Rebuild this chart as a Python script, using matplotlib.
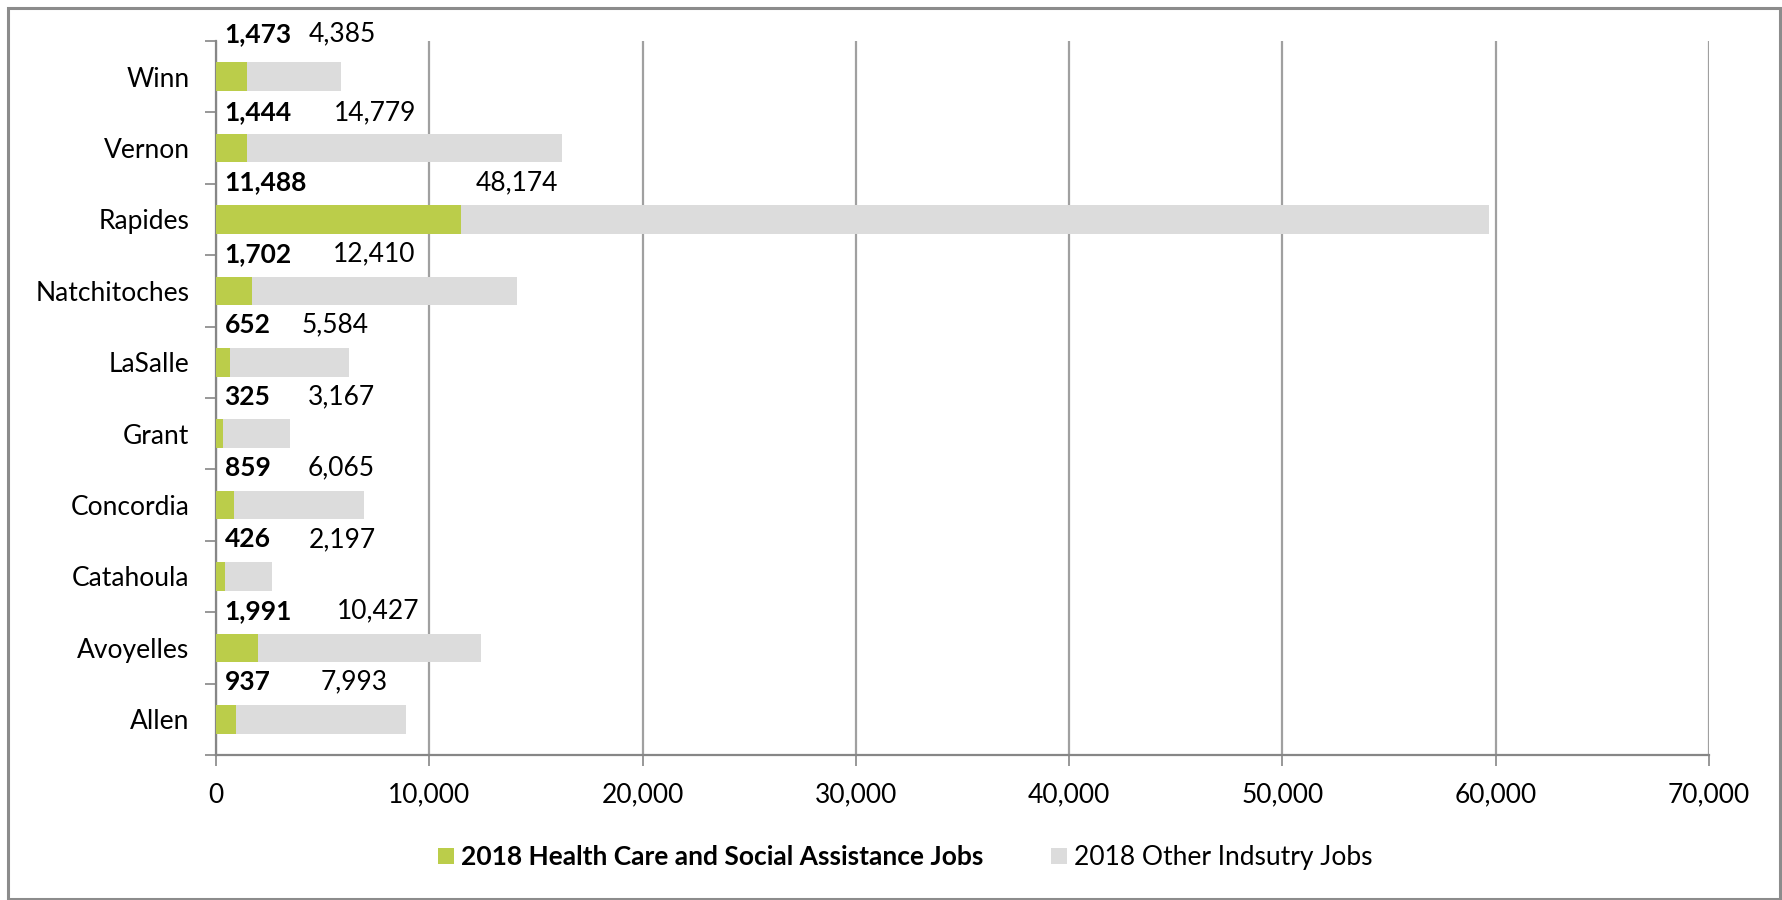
import matplotlib
matplotlib.use("Agg")
import matplotlib.pyplot as plt
from matplotlib.patches import Rectangle
from matplotlib.ticker import FuncFormatter, MultipleLocator
import numpy as np

plt.rcParams['font.family'] = ['Lato', 'DejaVu Sans']

# Data (bottom to top)
parishes = ["Allen", "Avoyelles", "Catahoula", "Concordia", "Grant",
            "LaSalle", "Natchitoches", "Rapides", "Vernon", "Winn"]
health_jobs = [937, 1991, 426, 859, 325, 652, 1702, 11488, 1444, 1473]
other_jobs = [7993, 10427, 2197, 6065, 3167, 5584, 12410, 48174, 14779, 4385]
# label anchor (x, data units) for the "other" labels and vertical offsets of labels
other_label_x = [6500, 7600, 5900, 5850, 5900, 5600, 7400, 14100, 7450, 5900]
label_dy = [0.52, 0.52, 0.52, 0.52, 0.52, 0.52, 0.52, 0.52, 0.5, 0.6]

series_names = ["2018 Health Care and Social Assistance Jobs", "2018 Other Indsutry Jobs"]
green = "#BBCD4A"
grey = "#DCDCDC"
axis_col = "#868686"
FS = 19

fig = plt.figure(figsize=(17.82, 9.0), dpi=100)
ax = fig.add_axes([216/1782, 145/900, 1493/1782, 714/900])

y = np.arange(len(parishes))
ax.barh(y, health_jobs, height=0.4, color=green, label=series_names[0], zorder=3)
ax.barh(y, other_jobs, left=health_jobs, height=0.4, color=grey, label=series_names[1], zorder=3)

for i in range(len(parishes)):
    ax.text(400, y[i] + label_dy[i], f"{health_jobs[i]:,}", ha='left', va='center',
            fontsize=FS, fontweight='bold', color='black', zorder=4)
    ax.text(other_label_x[i], y[i] + label_dy[i], f"{other_jobs[i]:,}", ha='center', va='center',
            fontsize=FS, color='black', zorder=4)

ax.set_xlim(0, 70000)
ax.set_ylim(-0.5, len(parishes) - 0.5)
ax.xaxis.set_major_locator(MultipleLocator(10000))
ax.xaxis.set_major_formatter(FuncFormatter(lambda v, p: f"{int(v):,}"))
ax.set_yticks(y)
ax.set_yticklabels(parishes)
ax.set_yticks(np.arange(-0.5, len(parishes), 1.0), minor=True)
ax.tick_params(axis='y', which='major', length=0, pad=19, labelsize=FS)
ax.tick_params(axis='y', which='minor', length=8, width=1.2, color=axis_col, direction='out')
ax.tick_params(axis='x', which='major', length=8, width=1.2, color=axis_col, direction='out',
               labelsize=FS, pad=12)

ax.grid(axis='x', color='#A0A0A0', linewidth=1.6, zorder=0)
for s in ['top', 'right']:
    ax.spines[s].set_visible(False)
for s in ['left', 'bottom']:
    ax.spines[s].set_color(axis_col)
    ax.spines[s].set_linewidth(1.6)

leg = fig.legend(loc='center', bbox_to_anchor=(0.508, 0.047), ncol=2, frameon=False,
                 fontsize=FS, handlelength=0.6, handleheight=0.6, handletextpad=0.25,
                 columnspacing=2.6)
leg.get_texts()[0].set_fontweight('bold')

fig.patches.append(Rectangle((8/1782, 1/900), 1772/1782, 891/900, transform=fig.transFigure,
                             fill=False, edgecolor='#8C8C8C', linewidth=2.2))

fig.savefig("out.png", dpi=100)
